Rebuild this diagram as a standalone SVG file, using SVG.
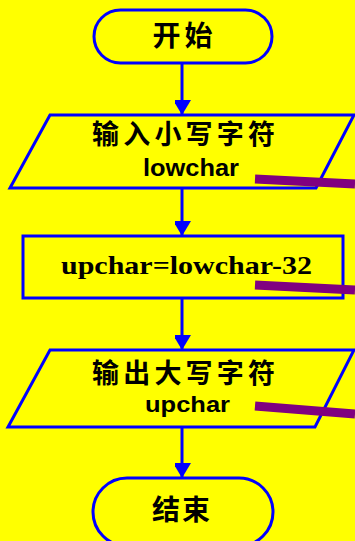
<svg xmlns="http://www.w3.org/2000/svg" width="355" height="541" viewBox="0 0 355 541">
<defs>
<style>
.shape{fill:#FFFF00;stroke:#0000FF;stroke-width:3}
.conn{stroke:#0000FF;stroke-width:3;fill:none}
.cjk{font-family:"Liberation Sans","Noto Sans CJK SC",sans-serif;font-weight:bold;fill:#000}
.sans{font-family:"Liberation Sans",Arial,sans-serif;font-weight:bold;fill:#000}
.serif{font-family:"Liberation Serif","Times New Roman",serif;font-weight:bold;font-size:25px;fill:#000}
.deco{stroke:#800080;stroke-width:9;fill:none}
</style>
<marker id="arr" markerUnits="userSpaceOnUse" markerWidth="18" markerHeight="16" refX="15" refY="9" orient="auto">
<path d="M0,0 L15,9 L0,18 Z" fill="#0000FF"/>
</marker>
</defs>
<rect width="355" height="541" fill="#FFFF00"/>
<g id="connectors">
<line class="conn" x1="182" y1="63" x2="182" y2="115" marker-end="url(#arr)"/>
<line class="conn" x1="182" y1="188" x2="182" y2="236" marker-end="url(#arr)"/>
<line class="conn" x1="182" y1="298" x2="182" y2="350" marker-end="url(#arr)"/>
<line class="conn" x1="182" y1="427" x2="182" y2="478" marker-end="url(#arr)"/>
</g>
<g id="start">
<rect class="shape" x="94" y="10" width="178" height="53" rx="26.5" ry="26.5"/>
<text class="cjk" x="182.5" y="46" text-anchor="middle" style="font-size:28px" textLength="60">开始</text>
</g>
<g id="input">
<polygon class="shape" points="50,115 354,115 316,188 10,188"/>
<text class="cjk" x="92" y="144" style="font-size:27px" textLength="183" lengthAdjust="spacing">输入小写字符</text>
<text class="sans" x="143" y="176" style="font-size:24px" textLength="96" lengthAdjust="spacingAndGlyphs">lowchar</text>
</g>
<g id="process">
<rect class="shape" x="23" y="236" width="320" height="62"/>
<text class="serif" x="61" y="274" textLength="251" lengthAdjust="spacingAndGlyphs">upchar=lowchar-32</text>
</g>
<g id="output">
<polygon class="shape" points="50,350 354,350 315,427 8,427"/>
<text class="cjk" x="92" y="383" style="font-size:27px" textLength="183" lengthAdjust="spacing">输出大写字符</text>
<text class="sans" x="145" y="412" style="font-size:22px" textLength="85" lengthAdjust="spacingAndGlyphs">upchar</text>
</g>
<g id="end">
<rect class="shape" x="93" y="478" width="180" height="68" rx="34" ry="34"/>
<text class="cjk" x="181" y="520" text-anchor="middle" style="font-size:28px" textLength="58">结束</text>
</g>
<g id="decoration">
<line class="deco" x1="255" y1="179" x2="355" y2="184"/>
<line class="deco" x1="255" y1="285" x2="355" y2="290"/>
<line class="deco" x1="255" y1="406" x2="355" y2="414"/>
</g>
</svg>
